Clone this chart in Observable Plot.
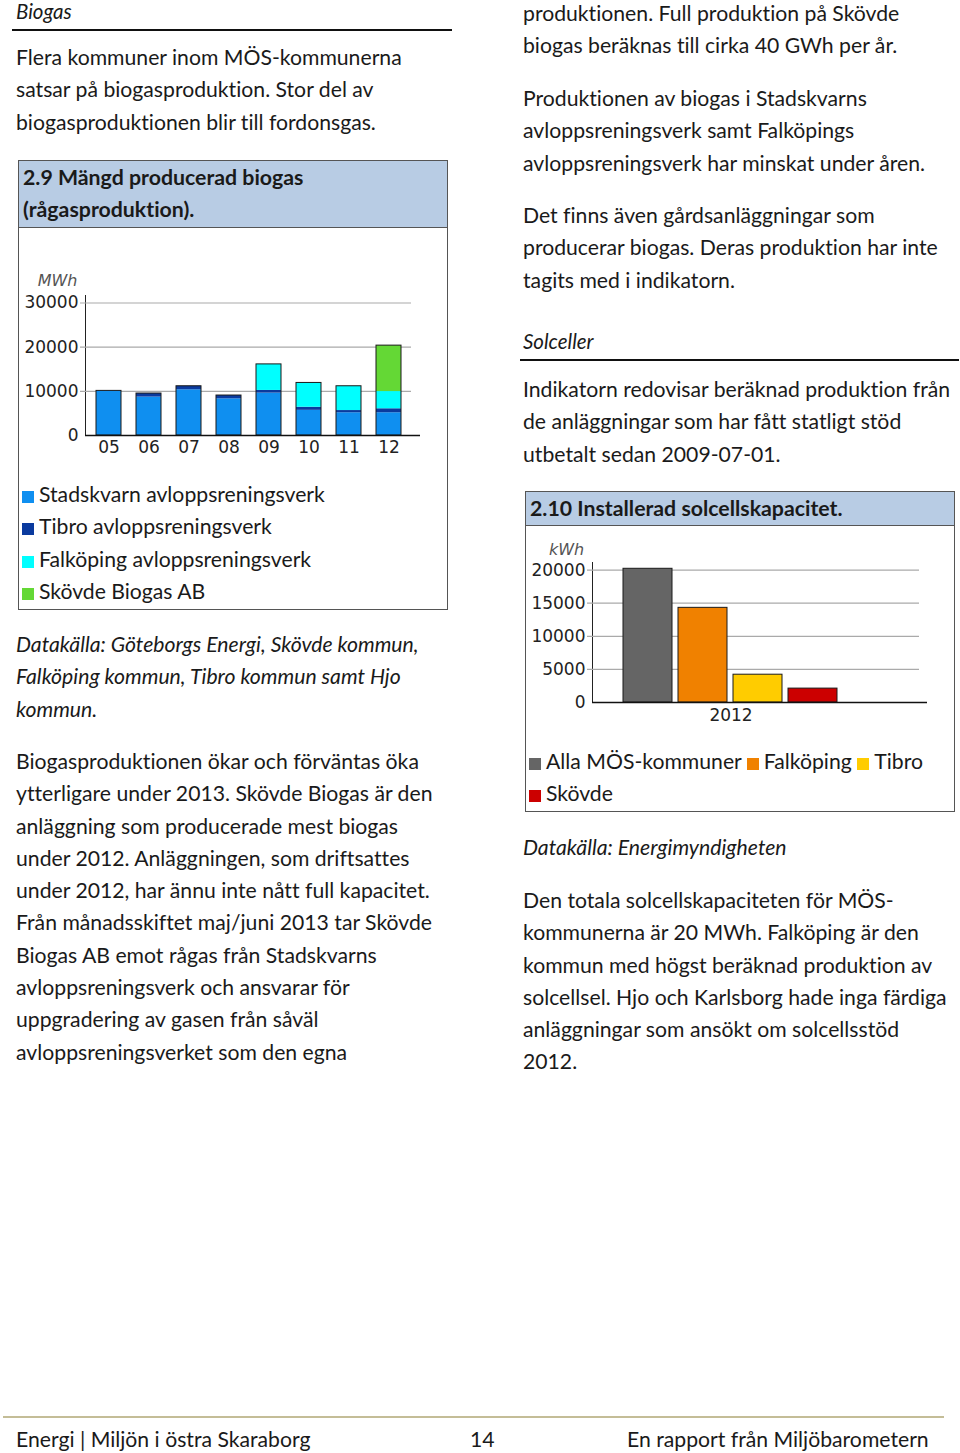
<!DOCTYPE html>
<html><head><meta charset="utf-8">
<script src="https://cdn.jsdelivr.net/npm/d3@7"></script>
<script src="https://cdn.jsdelivr.net/npm/@observablehq/plot@0.6"></script>
<style>
html,body{margin:0;padding:0;background:#fff}
body{width:960px;height:1453px;position:relative;overflow:hidden;font-family:Lato,"Open Sans",sans-serif;color:#1a1a1a;font-variant-ligatures:none;font-feature-settings:"liga" 0,"clig" 0}
.t{position:absolute;font-size:21.2px;line-height:32.3px;white-space:nowrap;margin:0}
.it{font-style:italic}
.h{position:absolute;font-size:20.5px;font-style:italic;white-space:nowrap;line-height:24px}
.rule{position:absolute;height:2px;background:#111}
.box{position:absolute;border:1px solid #555;box-sizing:border-box;background:#fff}
.hdr{position:absolute;left:0;right:0;top:0;background:#b8cce4;border-bottom:1px solid #555;font-weight:bold;font-size:21.3px;line-height:32px;padding-left:4px;box-sizing:border-box;white-space:nowrap}
.sq{display:inline-block;width:12px;height:12px;margin-right:5px;vertical-align:-1px}
.leg{position:absolute;font-size:21.2px;line-height:32.3px;white-space:nowrap}
.chart{position:absolute}
</style>
</head><body>
<div class="h" style="left:16px;top:-1px">Biogas</div>
<div class="rule" style="left:12px;top:29px;width:440px"></div>
<p class="t" style="left:16px;top:41px">Flera kommuner inom MÖS-kommunerna<br>satsar på biogasproduktion. Stor del av<br>biogasproduktionen blir till fordonsgas.</p>

<div class="box" style="left:18px;top:160px;width:430px;height:450px">
  <div class="hdr" style="height:67px;padding-top:0px">2.9 Mängd producerad biogas<br>(rågasproduktion).</div>
</div>
<div id="bioChart" class="chart" style="left:19px;top:260px"></div>
<div id="bioLegend" class="leg" style="left:22px;top:478px"></div>

<p class="t it" style="left:16px;top:628px">Datakälla: Göteborgs Energi, Skövde kommun,<br>Falköping kommun, Tibro kommun samt Hjo<br>kommun.</p>

<p class="t" style="left:16px;top:745px">Biogasproduktionen ökar och förväntas öka<br>ytterligare under 2013. Skövde Biogas är den<br>anläggning som producerade mest biogas<br>under 2012. Anläggningen, som driftsattes<br>under 2012, har ännu inte nått full kapacitet.<br>Från månadsskiftet maj/juni 2013 tar Skövde<br>Biogas AB emot rågas från Stadskvarns<br>avloppsreningsverk och ansvarar för<br>uppgradering av gasen från såväl<br>avloppsreningsverket som den egna</p>

<p class="t" style="left:523px;top:-3px">produktionen. Full produktion på Skövde<br>biogas beräknas till cirka 40 GWh per år.</p>
<p class="t" style="left:523px;top:82px">Produktionen av biogas i Stadskvarns<br>avloppsreningsverk samt Falköpings<br>avloppsreningsverk har minskat under åren.</p>
<p class="t" style="left:523px;top:199px">Det finns även gårdsanläggningar som<br>producerar biogas. Deras produktion har inte<br>tagits med i indikatorn.</p>

<div class="h" style="left:523px;top:329px">Solceller</div>
<div class="rule" style="left:520px;top:359px;width:439px"></div>
<p class="t" style="left:523px;top:373px">Indikatorn redovisar beräknad produktion från<br>de anläggningar som har fått statligt stöd<br>utbetalt sedan 2009-07-01.</p>

<div class="box" style="left:525px;top:491px;width:430px;height:321px">
  <div class="hdr" style="height:34px">2.10 Installerad solcellskapacitet.</div>
</div>
<div id="solChart" class="chart" style="left:526px;top:530px"></div>
<div id="solLegend" class="leg" style="left:529px;top:745px;width:422px;white-space:normal"></div>

<p class="t it" style="left:523px;top:831px">Datakälla: Energimyndigheten</p>
<p class="t" style="left:523px;top:884px">Den totala solcellskapaciteten för MÖS-<br>kommunerna är 20 MWh. Falköping är den<br>kommun med högst beräknad produktion av<br>solcellsel. Hjo och Karlsborg hade inga färdiga<br>anläggningar som ansökt om solcellsstöd<br>2012.</p>

<div style="position:absolute;left:3px;top:1416px;width:941px;height:2px;background:#c4bd97"></div>
<div class="t" style="left:16px;top:1423px">Energi | Miljön i östra Skaraborg</div>
<div class="t" style="left:470px;top:1423px">14</div>
<div class="t" style="left:627px;top:1423px">En rapport från Miljöbarometern</div>

<script>
// ---- Biogas data (MWh) ----
const years = ["05","06","07","08","09","10","11","12"];
const bioSites = ["Stadskvarn avloppsreningsverk","Tibro avloppsreningsverk","Falköping avloppsreningsverk","Skövde Biogas AB"];
const bioColors = ["#0f8ff0","#0a3a9e","#00ffff","#64d835"];
const stadskvarn = [10100, 8700, 10350, 8300, 9600, 5700, 5150, 5150];
const tibro      = [0, 800, 800, 750, 600, 700, 500, 900];
const falkoping  = [0, 0, 0, 0, 5900, 5500, 5500, 3900];
const skovdeBio  = [0, 0, 0, 0, 0, 0, 0, 10400];
const bioTicks = [0, 10000, 20000, 30000];

// ---- Solar data (kWh, 2012) ----
const solarYear = "2012";
const solarCats = ["Alla MÖS-kommuner","Falköping","Tibro","Skövde"];
const solarValues = [20200, 14300, 4200, 2100];
const solarColors = ["#656565","#f08100","#ffcc00","#cc0000"];
const solarTicks = [0, 5000, 10000, 15000, 20000];

const bioSeries = [stadskvarn, tibro, falkoping, skovdeBio];
const bioRows = years.flatMap((yr, i) => bioSites.map((s, k) => ({year: yr, site: s, v: bioSeries[k][i]})));
const bioTotals = years.map((yr, i) => ({year: yr, total: bioSeries.reduce((a, s) => a + s[i], 0)}));

const axisStyle = {fontFamily: "'DejaVu Sans', Verdana, sans-serif", fontSize: "17px", color: "#222", background: "transparent", overflow: "visible"};

const bio = Plot.plot({
  width: 427, height: 200,
  marginLeft: 66, marginRight: 26, marginTop: 35, marginBottom: 25,
  style: axisStyle,
  x: {domain: years, paddingInner: 0.383, paddingOuter: 0.331, align: 0.373, label: null, tickSize: 0, tickPadding: 5},
  y: {domain: [0, 31700], ticks: bioTicks, tickFormat: d => String(d), label: null, tickSize: 0, tickPadding: 7, line: true},
  color: {domain: bioSites, range: bioColors},
  marks: [
    Plot.ruleY(bioTicks.slice(1), {stroke: "#aaa", strokeWidth: 1.2, insetLeft: -5, insetRight: 9}),
    Plot.barY(bioRows, {x: "year", y: "v", fill: "site"}),
    Plot.barY(bioTotals, {x: "year", y: "total", fill: "none", stroke: "#1a1a1a", strokeWidth: 1}),
    Plot.ruleY([0], {stroke: "#111", strokeWidth: 1.5}),
    Plot.text(["MWh"], {frameAnchor: "top-left", lineAnchor: "middle", textAnchor: "middle", dx: -28, dy: -15, fontStyle: "italic", fill: "#555", fontSize: 16})
  ]
});
document.getElementById("bioChart").appendChild(bio);

document.getElementById("bioLegend").innerHTML = bioSites.map((s, i) =>
  `<div><span class="sq" style="background:${bioColors[i]}"></span>${s}</div>`).join("");

const solarRows = solarCats.map((c, i) => ({cat: c, v: solarValues[i], year: solarYear}));

const sol = Plot.plot({
  width: 427, height: 200,
  marginLeft: 66, marginRight: 26, marginTop: 32, marginBottom: 28,
  style: axisStyle,
  x: {domain: solarCats, paddingInner: 0.107, paddingOuter: 1.0446, align: 0.256, axis: null},
  y: {domain: [0, 21150], ticks: solarTicks, tickFormat: d => String(d), label: null, tickSize: 0, tickPadding: 7, line: true},
  color: {domain: solarCats, range: solarColors},
  marks: [
    Plot.ruleY(solarTicks.slice(1), {stroke: "#aaa", strokeWidth: 1.2, insetLeft: -5, insetRight: 8}),
    Plot.barY(solarRows, {x: "cat", y: "v", fill: "cat", stroke: "#1a1a1a", strokeWidth: 1}),
    Plot.ruleY([0], {stroke: "#111", strokeWidth: 1.5}),
    Plot.text([solarYear], {x: () => solarCats[1], dx: 28, frameAnchor: "bottom", lineAnchor: "middle", dy: 13, fill: "#222"}),
    Plot.text(["kWh"], {frameAnchor: "top-left", lineAnchor: "middle", textAnchor: "middle", dx: -26, dy: -13, fontStyle: "italic", fill: "#555", fontSize: 16})
  ]
});
document.getElementById("solChart").appendChild(sol);

document.getElementById("solLegend").innerHTML = solarCats.map((c, i) =>
  `<span style="white-space:nowrap"><span class="sq" style="background:${solarColors[i]}"></span>${c}</span>`).join(" ");
</script>
</body></html>
